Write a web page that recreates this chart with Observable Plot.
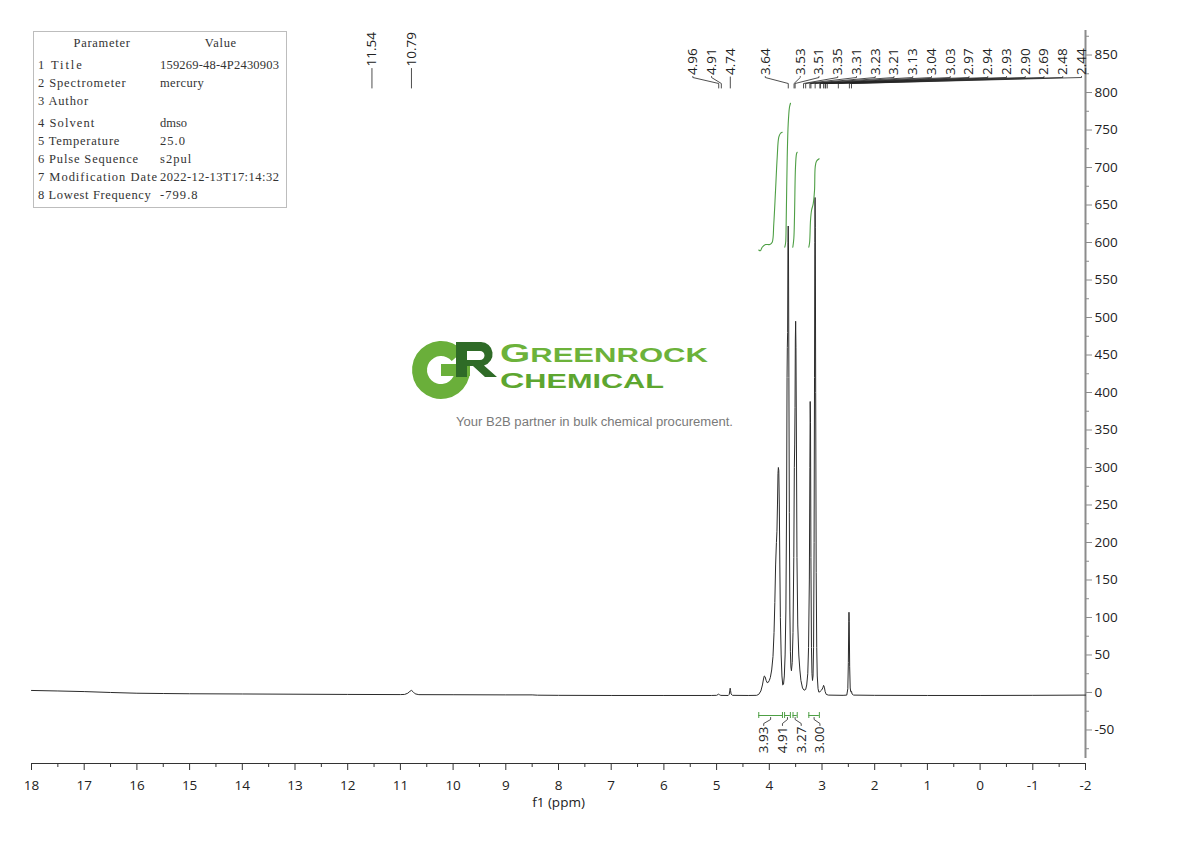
<!DOCTYPE html>
<html>
<head>
<meta charset="utf-8">
<script src="https://cdn.jsdelivr.net/npm/d3@7"></script>
<script src="https://cdn.jsdelivr.net/npm/@observablehq/plot@0.6"></script>
<style>
  html, body { margin: 0; padding: 0; background: #fff; }
  #wrap { position: relative; width: 1190px; height: 841px; overflow: hidden; }
  #overlay { position: absolute; left: 0; top: 0; pointer-events: none; }
</style>
</head>
<body>
<div id="wrap"></div>
<script>
// ---------------- DATA ----------------
// 1H spectrum trace: chemical shift (ppm) and intensity
const specPpm = [18.00, 17.50, 17.00, 16.50, 16.00, 15.50, 15.00, 14.00, 13.00, 12.00, 11.00,
  10.92, 10.86, 10.82, 10.79, 10.76, 10.72, 10.65, 10.00, 9.00, 8.50, 8.40, 8.00, 7.00, 6.00,
  5.10, 5.00, 4.97, 4.96, 4.945, 4.92, 4.78, 4.76, 4.75, 4.742, 4.735, 4.725, 4.70, 4.40,
  4.24, 4.20, 4.16, 4.13, 4.11, 4.095, 4.08, 4.06, 4.04, 4.02, 4.00, 3.98, 3.955, 3.93, 3.91,
  3.895, 3.88, 3.865, 3.855, 3.845, 3.835, 3.828, 3.82, 3.81, 3.80, 3.79, 3.775, 3.76, 3.745,
  3.73, 3.715, 3.70, 3.685, 3.672, 3.663, 3.658, 3.652, 3.646, 3.641, 3.636, 3.628, 3.62,
  3.61, 3.60, 3.59, 3.58, 3.565, 3.55, 3.535, 3.525, 3.518, 3.512, 3.506, 3.50, 3.494, 3.485,
  3.475, 3.46, 3.44, 3.42, 3.40, 3.37, 3.34, 3.31, 3.29, 3.27, 3.255, 3.24, 3.23, 3.224,
  3.218, 3.21, 3.20, 3.19, 3.18, 3.17, 3.16, 3.15, 3.142, 3.136, 3.132, 3.127, 3.12, 3.11,
  3.10, 3.09, 3.075, 3.06, 3.04, 3.01, 2.985, 2.97, 2.955, 2.94, 2.92, 2.88, 2.60, 2.53,
  2.51, 2.50, 2.492, 2.488, 2.483, 2.475, 2.465, 2.455, 2.44, 2.43, 2.40, 2.00, 1.00, 0.00,
  -1.00, -2.00];
const specVal = [2.7, 2.0, 1.2, 0.0, -1.0, -1.4, -1.7, -2.0, -2.3, -2.6, -2.8,
  -2.6, -1.0, 1.5, 2.8, 1.0, -1.8, -2.9, -3.0, -3.2, -3.2, -3.6, -3.8, -4.0, -4.0,
  -4.0, -3.8, -2.6, -2.2, -3.0, -3.9, -4.0, -2.5, 2.0, 5.7, 2.5, -2.0, -3.8, -4.0,
  -3.8, -2.5, 2, 10, 18, 22, 21, 16, 13, 13.5, 16, 20, 30, 48, 80,
  120, 170, 200, 215, 250, 292, 300, 296, 250, 170, 100, 50, 22, 10,
  11, 22, 50, 110, 250, 420, 460, 480, 600, 622, 590, 420, 240,
  110, 55, 34, 29, 40, 80, 180, 300, 330, 380, 470, 495, 460, 330,
  180, 90, 50, 30, 16, 6, 3, 4, 10, 25, 60, 150, 300, 388,
  360, 180, 60, 25, 16, 22, 60, 200, 420, 600, 660, 620, 400, 160,
  60, 22, 5, 0.5, 1, 3, 6, 9.5, 7, 1, -2.5, -3.5, -3.8, -3.5,
  5, 40, 95, 107, 95, 35, 6, 1, 1.5, -2, -3.5, -3.8, -4.0, -4.0,
  -3.8, -3.5];

// integral curves (green), ppm and height on the intensity axis
const integral1Ppm = [4.20, 4.17, 4.135, 4.072, 3.99, 3.945, 3.915, 3.882, 3.85, 3.82, 3.787, 3.755];
const integral1Val = [590, 589, 593.7, 597.3, 597.3, 600.4, 625, 669, 713.7, 740.4, 745.7, 747];
const integral2Ppm = [3.706, 3.69, 3.68, 3.66, 3.641, 3.617, 3.598];
const integral2Val = [593.7, 600, 625.3, 713.7, 758.7, 780.4, 785.7];
const integral3Ppm = [3.554, 3.535, 3.522, 3.503, 3.484, 3.471];
const integral3Val = [593.7, 605, 633.7, 700.4, 718.3, 720.4];
const integral4Ppm = [3.25, 3.235, 3.218, 3.199, 3.167, 3.142, 3.129, 3.105, 3.054];
const integral4Val = [593.7, 600, 629.3, 642.7, 651.6, 669.3, 700.4, 708.4, 711.6];

// integration ranges and their values
const intFrom = [4.20, 3.71, 3.55, 3.25];
const intTo = [3.75, 3.60, 3.47, 3.05];
const intValues = ["3.93", "4.91", "3.27", "3.00"];

// peak picking labels
const peakLabels = ["11.54", "10.79", "4.96", "4.91", "4.74", "3.64", "3.53", "3.51", "3.35",
  "3.31", "3.23", "3.21", "3.13", "3.04", "3.03", "2.97", "2.94", "2.93", "2.90", "2.69",
  "2.48", "2.44"];

// axis ticks
const xTicks = [18, 17, 16, 15, 14, 13, 12, 11, 10, 9, 8, 7, 6, 5, 4, 3, 2, 1, 0, -1, -2];
const yTicks = [-50, 0, 50, 100, 150, 200, 250, 300, 350, 400, 450, 500, 550, 600, 650, 700, 750, 800, 850];

// parameter table
const paramNames = ["1 Title", "2 Spectrometer", "3 Author", "4 Solvent", "5 Temperature",
  "6 Pulse Sequence", "7 Modification Date", "8 Lowest Frequency"];
const paramValues = ["159269-48-4P2430903", "mercury", "", "dmso", "25.0", "s2pul",
  "2022-12-13T17:14:32", "-799.8"];

// ---------------- LAYOUT ----------------
const W = 1190, H = 841;
const M = {top: 30, right: 105, bottom: 78, left: 31};
const xDomain = [18, -2];
const yDomain = [-94.7, 882.7];
const xS = d3.scaleLinear(xDomain, [M.left, W - M.right]);
const yS = d3.scaleLinear(yDomain, [H - M.bottom, M.top]);
const px2v = py => yS.invert(py);
const px2ppm = px => xS.invert(px);

const green = "#4e9f45";
const ink = "#222";

const spectrum = specPpm.map((p, i) => ({ppm: p, v: specVal[i]}));
const integrals = [
  [integral1Ppm, integral1Val], [integral2Ppm, integral2Val],
  [integral3Ppm, integral3Val], [integral4Ppm, integral4Val]
].flatMap(([ps, vs], k) => ps.map((p, i) => ({id: k, ppm: p, v: vs[i]})));

// peak label placement (pixels): the 3.53…2.44 group is spread evenly up to the right edge,
// 3.64 sits midway, the 4.x labels dodge leftwards from their peaks.
const spacing = 18.75;
const peaks = peakLabels.map(t => ({label: t, ppm: +t, px: xS(+t)}));
const rightEdge = xS(-2) - 4;
const iFirst = peakLabels.indexOf("3.53");
peaks.forEach((d, i) => { if (i >= iFirst) d.lx = rightEdge - (peaks.length - 1 - i) * spacing; });
const i474 = peakLabels.indexOf("4.74");
peaks[i474].lx = peaks[i474].px;
peaks[i474 + 1].lx = (peaks[i474].lx + peaks[iFirst].lx) / 2;
for (let i = i474 - 1; i >= 2; i--) peaks[i].lx = Math.min(peaks[i].px, peaks[i + 1].lx - spacing);
peaks[0].lx = peaks[0].px; peaks[1].lx = peaks[1].px;
peaks.forEach((d, i) => { d.yb = i < 2 ? 66 : 74.5; });

const leaders = peaks.flatMap((d, k) => {
  const pts = Math.abs(d.lx - d.px) < 0.5
    ? [[d.px, d.yb + 2], [d.px, 87.5]]
    : [[d.lx, d.yb + 1.5], [d.lx, 77], [d.px, 83], [d.px, 87.5]];
  return pts.map(([x, y]) => ({id: k, ppm: px2ppm(x), v: px2v(y)}));
});

// integration bars under the spectrum
const barY = 715;
const bars = intFrom.map((f, i) => ({from: f, to: intTo[i], v: px2v(barY), c: xS((f + intTo[i]) / 2)}));
const caps = bars.flatMap(b => [b.from, b.to].map(p => ({ppm: p})));
const meanC = d3.mean(bars, b => b.c);
bars.forEach((b, i) => { b.lx = meanC + (i - (bars.length - 1) / 2) * spacing; });
const intLeaders = bars.flatMap((b, k) => [[b.c, barY + 2], [b.c, 719], [b.lx, 723], [b.lx, 725]]
  .map(([x, y]) => ({id: k, ppm: px2ppm(x), v: px2v(y)})));

const plot = Plot.plot({
  width: W, height: H,
  marginTop: M.top, marginRight: M.right, marginBottom: M.bottom, marginLeft: M.left,
  x: {domain: xDomain},
  y: {domain: yDomain},
  style: {fontFamily: "'Open Sans', sans-serif", fontSize: "13.5px", color: ink, background: "transparent", overflow: "visible"},
  marks: [
    // x axis
    Plot.ruleY([yDomain[0]], {x1: 18, x2: -2, stroke: "#333", strokeWidth: 1}),
    Plot.axisX({anchor: "bottom", ticks: xTicks, tickSize: 7, tickPadding: 10, tickFormat: d => String(d),
      label: null, stroke: "#333", fill: ink, fontSize: 13.5}),
    Plot.axisX({anchor: "bottom", ticks: xTicks.slice(0, -1).map(t => t - 0.5), tickSize: 4,
      tickFormat: () => "", label: null, stroke: "#333"}),
    Plot.text(["f1 (ppm)"], {frameAnchor: "bottom", dy: 43.5, fontSize: 13.5, fill: ink}),
    // y axis on the right
    Plot.ruleX([-2], {y1: px2v(758), y2: yDomain[1], stroke: "#8c8c8c", strokeWidth: 2}),
    Plot.axisY({anchor: "right", ticks: yTicks, tickSize: 6, tickPadding: 3, tickFormat: d => String(d),
      label: null, stroke: "#8c8c8c", fill: ink, fontSize: 13.5}),
    Plot.axisY({anchor: "right", ticks: yTicks.map(t => t - 25).concat([875]), tickSize: 3,
      tickFormat: () => "", label: null, stroke: "#8c8c8c"}),
    // spectrum
    Plot.line(spectrum, {x: "ppm", y: "v", stroke: "#2b2b2b", strokeWidth: 1}),
    // integral curves
    Plot.line(integrals, {x: "ppm", y: "v", z: "id", stroke: green, strokeWidth: 1.1, curve: "catmull-rom"}),
    // integration bars
    Plot.ruleY(bars, {x1: "from", x2: "to", y: "v", stroke: green, strokeWidth: 1}),
    Plot.ruleX(caps, {x: "ppm", y1: px2v(barY + 3), y2: px2v(barY - 3), stroke: green, strokeWidth: 1}),
    Plot.line(intLeaders, {x: "ppm", y: "v", z: "id", stroke: ink, strokeWidth: 0.8}),
    Plot.text(bars, {x: b => px2ppm(b.lx), y: () => px2v(726), text: (b, i) => intValues[i],
      rotate: -90, textAnchor: "end", fontSize: 13.5, fill: ink}),
    // peak labels
    Plot.line(leaders, {x: "ppm", y: "v", z: "id", stroke: ink, strokeWidth: 0.8}),
    Plot.text(peaks, {x: d => px2ppm(d.lx), y: d => px2v(d.yb), text: "label",
      rotate: -90, textAnchor: "start", fontSize: 13.5, fill: ink})
  ]
});

const wrap = document.getElementById("wrap");
wrap.appendChild(plot);

// ---------------- overlay: parameter table + watermark ----------------
const ns = "http://www.w3.org/2000/svg";
const ov = d3.select(wrap).append("svg").attr("id", "overlay")
  .attr("width", W).attr("height", H).attr("xmlns", ns);

const tbl = ov.append("g").attr("font-family", "'Liberation Serif', serif").attr("font-size", 12.5).attr("fill", "#333");
tbl.append("rect").attr("x", 33.5).attr("y", 31.5).attr("width", 253).attr("height", 176)
  .attr("fill", "white").attr("stroke", "#bdbdbd").attr("stroke-width", 1);
const cw = 6.26;
const addT = (x, y, s, anchor) => {
  if (!s) return;
  const t = tbl.append("text").attr("x", x).attr("y", y).attr("dominant-baseline", "central")
    .attr("text-anchor", anchor || "start").text(s);
  const natural = t.node().getComputedTextLength();
  if (natural < s.length * cw) t.attr("textLength", s.length * cw).attr("lengthAdjust", "spacing");
};
addT(101.7, 43, "Parameter", "middle");
addT(220.5, 43, "Value", "middle");
const rowY = [65, 83, 101, 123, 141, 159, 177, 195];
paramNames.forEach((n, i) => { addT(38, rowY[i], n); addT(160, rowY[i], paramValues[i]); });

// watermark logo
const lg = ov.append("g");
const cx = 441, cy = 370, Ro = 29, Ri = 14;
const a0 = -40 * Math.PI / 180;
const P = (r, a) => [cx + r * Math.cos(a), cy + r * Math.sin(a)];
const [o1x, o1y] = P(Ro, 0), [o2x, o2y] = P(Ro, a0), [i2x, i2y] = P(Ri, a0), [i1x, i1y] = P(Ri, 0);
lg.append("path").attr("fill", "#6aaf3a").attr("d",
  `M${o1x},${o1y} A${Ro},${Ro} 0 1 1 ${o2x},${o2y} L${i2x},${i2y} A${Ri},${Ri} 0 1 0 ${i1x},${i1y} Z`);
lg.append("rect").attr("x", 441).attr("y", 364).attr("width", 29).attr("height", 12).attr("fill", "#6aaf3a");
lg.append("path").attr("fill", "#2f6b27").attr("fill-rule", "evenodd").attr("d",
  "M456,342 H481 A12,12 0 0 1 484,365.5 L497,377 H485 L473,366 H467 V377 H456 Z M467,351 H480 A4.5,4.5 0 0 1 480,360 H467 Z");
lg.append("text").attr("x", 500).attr("y", 362).attr("font-family", "'Liberation Sans', sans-serif")
  .attr("font-weight", "bold").attr("fill", "#6cb23a").attr("textLength", 208).attr("lengthAdjust", "spacingAndGlyphs")
  .html('<tspan font-size="25">G</tspan><tspan font-size="20">REENROCK</tspan>');
lg.append("text").attr("x", 500).attr("y", 387.5).attr("font-family", "'Liberation Sans', sans-serif")
  .attr("font-weight", "bold").attr("fill", "#5da630").attr("textLength", 164).attr("lengthAdjust", "spacingAndGlyphs")
  .html('<tspan font-size="22">C</tspan><tspan font-size="20">HEMICAL</tspan>');
lg.append("text").attr("x", 456).attr("y", 425.5).attr("font-family", "'Liberation Sans', sans-serif")
  .attr("font-size", 12.5).attr("fill", "#7a7a7a").attr("textLength", 277).attr("lengthAdjust", "spacingAndGlyphs")
  .text("Your B2B partner in bulk chemical procurement.");
</script>
</body>
</html>
